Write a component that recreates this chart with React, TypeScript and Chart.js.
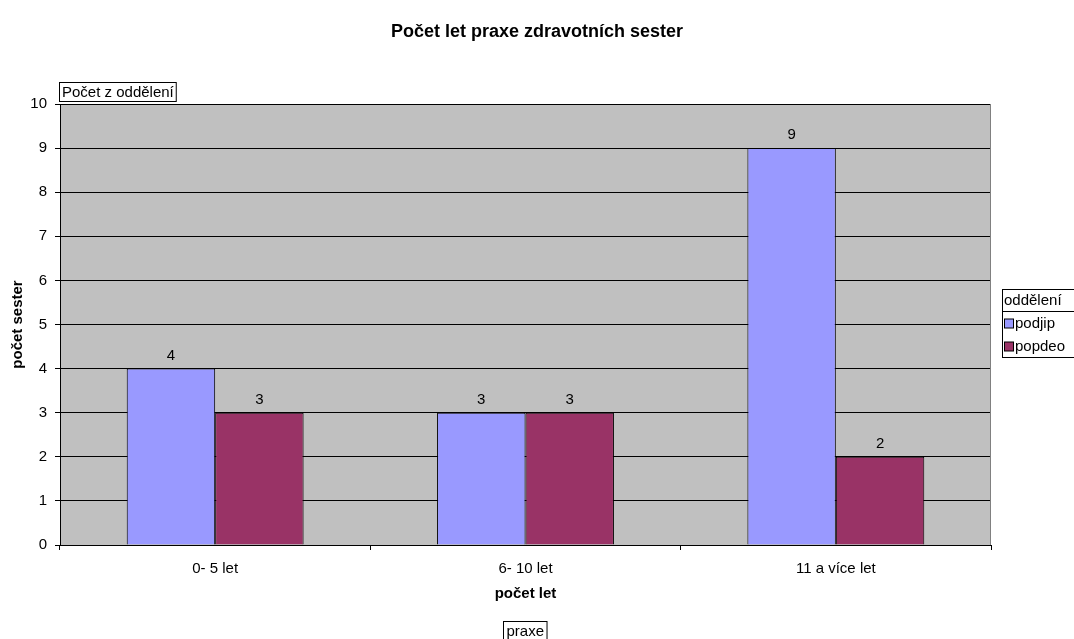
import React, { useEffect, useRef } from "react";
import { Chart, registerables } from "chart.js";

Chart.register(...registerables);

const chartTitle = "Počet let praxe zdravotních sester";
const categories = ["0- 5 let", "6- 10 let", "11 a více let"];
const seriesNames = ["podjip", "popdeo"];
const podjipValues = [4, 3, 9];
const popdeoValues = [3, 3, 2];
const seriesColors = ["#9999FF", "#993366"];
const yTitle = "počet sester";
const xTitle = "počet let";
const legendTitle = "oddělení";
const dataFieldLabel = "Počet z oddělení";
const axisFieldLabel = "praxe";

const FONT = '"Liberation Sans", Arial, sans-serif';
const FS = 15;

const decorPlugin = {
  id: "decor",
  beforeDraw(chart: any) {
    const { ctx, chartArea } = chart;
    ctx.save();
    ctx.fillStyle = "#ffffff";
    ctx.fillRect(0, 0, chart.width, chart.height);
    ctx.fillStyle = "#C0C0C0";
    ctx.fillRect(chartArea.left, chartArea.top, chartArea.right - chartArea.left, chartArea.bottom - chartArea.top);
    ctx.restore();
  },
  afterDatasetsDraw(chart: any) {
    const { ctx, chartArea } = chart;
    ctx.save();
    ctx.strokeStyle = "#808080";
    ctx.lineWidth = 1;
    ctx.beginPath();
    ctx.moveTo(Math.round(chartArea.right) - 0.5, chartArea.top);
    ctx.lineTo(Math.round(chartArea.right) - 0.5, chartArea.bottom);
    ctx.stroke();
    ctx.fillStyle = "#000000";
    ctx.font = `${FS}px ${FONT}`;
    ctx.textAlign = "center";
    ctx.textBaseline = "middle";
    chart.data.datasets.forEach((ds: any, di: number) => {
      const meta = chart.getDatasetMeta(di);
      meta.data.forEach((bar: any, i: number) => {
        ctx.fillText(String(ds.data[i]), bar.x, bar.y - 13);
      });
    });
    ctx.restore();
  },
  afterDraw(chart: any) {
    const { ctx } = chart;
    ctx.save();
    ctx.font = `${FS}px ${FONT}`;
    ctx.textBaseline = "middle";
    ctx.textAlign = "left";
    ctx.lineWidth = 1;
    ctx.strokeStyle = "#000000";

    // data field button
    const dw = ctx.measureText(dataFieldLabel).width;
    ctx.fillStyle = "#ffffff";
    ctx.fillRect(59.5, 82.5, dw + 5, 19);
    ctx.strokeRect(59.5, 82.5, dw + 5, 19);
    ctx.fillStyle = "#000000";
    ctx.fillText(dataFieldLabel, 62, 92.5);

    // axis field button
    const aw = ctx.measureText(axisFieldLabel).width;
    const bw = aw + 6;
    const ax = Math.round(525 - bw / 2) + 0.5;
    ctx.fillStyle = "#ffffff";
    ctx.fillRect(ax, 621.5, bw, 20);
    ctx.strokeRect(ax, 621.5, bw, 20);
    ctx.fillStyle = "#000000";
    ctx.fillText(axisFieldLabel, ax + 3, 631.5);

    // legend
    const lx = 1002.5, ly = 289.5, lw = 80, hh = 22, lh = 68;
    ctx.fillStyle = "#ffffff";
    ctx.fillRect(lx, ly, lw, lh);
    ctx.strokeRect(lx, ly, lw, lh);
    ctx.beginPath();
    ctx.moveTo(lx, ly + hh);
    ctx.lineTo(lx + lw, ly + hh);
    ctx.stroke();
    ctx.fillStyle = "#000000";
    ctx.fillText(legendTitle, 1004, ly + 11.5);
    chart.data.datasets.forEach((ds: any, i: number) => {
      const cy = ly + hh + 12 + i * 23;
      ctx.fillStyle = ds.backgroundColor;
      ctx.fillRect(1004.5, cy - 4.5, 9, 9);
      ctx.strokeStyle = "#000000";
      ctx.strokeRect(1004.5, cy - 4.5, 9, 9);
      ctx.fillStyle = "#000000";
      ctx.fillText(ds.label, 1015, cy);
    });
    ctx.restore();
  },
};

export default function App() {
  const ref = useRef<HTMLCanvasElement>(null);
  useEffect(() => {
    if (!ref.current) return;
    const barCommon = {
      borderColor: "#000000",
      borderWidth: 1,
      categoryPercentage: 0.57,
      barPercentage: 1,
    };
    const chart = new Chart(ref.current, {
      type: "bar",
      data: {
        labels: categories,
        datasets: [
          { label: seriesNames[0], data: podjipValues, backgroundColor: seriesColors[0], ...barCommon },
          { label: seriesNames[1], data: popdeoValues, backgroundColor: seriesColors[1], ...barCommon },
        ],
      },
      options: {
        responsive: false,
        animation: false,
        layout: { padding: 0 },
        plugins: {
          legend: { display: false },
          tooltip: { enabled: false },
          title: {
            display: true,
            text: chartTitle,
            color: "#000000",
            font: { family: FONT, size: 18, weight: "bold", lineHeight: 1.2 },
            padding: { top: 21, bottom: 61.4 },
          },
        },
        scales: {
          x: {
            grid: {
              display: true,
              drawOnChartArea: false,
              drawTicks: true,
              tickLength: 5,
              color: "#000000",
              offset: true,
            },
            border: { display: true, color: "#000000" },
            ticks: {
              color: "#000000",
              font: { family: FONT, size: FS },
              padding: 10,
              maxRotation: 0,
            },
            title: {
              display: true,
              text: xTitle,
              color: "#000000",
              font: { family: FONT, size: FS, weight: "bold", lineHeight: 1.2 },
              padding: { top: 0, bottom: 36 },
            },
            afterFit(scale: any) {
              scale.height = 94;
            },
          },
          y: {
            min: 0,
            max: 10,
            grid: { color: "#000000", tickLength: 5, drawTicks: true },
            border: { display: true, color: "#000000" },
            ticks: {
              stepSize: 1,
              color: "#000000",
              font: { family: FONT, size: FS },
              padding: 8,
            },
            title: {
              display: true,
              text: yTitle,
              color: "#000000",
              font: { family: FONT, size: FS, weight: "bold", lineHeight: 1.2 },
              padding: { top: 9, bottom: 0 },
            },
            afterFit(scale: any) {
              scale.width = 60;
            },
          },
          yRightSpace: {
            type: "linear",
            position: "right",
            display: true,
            grid: { display: false, drawTicks: false },
            border: { display: false },
            ticks: { display: false },
            afterFit(scale: any) {
              scale.width = 83;
            },
          },
        },
      },
      plugins: [decorPlugin],
    } as any);
    return () => chart.destroy();
  }, []);
  return (
    <div style={{ position: "fixed", left: 0, top: 0, width: 1074, height: 639, background: "#fff" }}>
      <canvas ref={ref} width={1074} height={639} style={{ display: "block" }} />
    </div>
  );
}
